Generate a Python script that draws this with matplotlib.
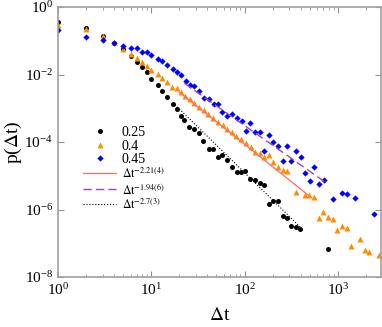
import matplotlib
matplotlib.use("Agg")
import matplotlib.pyplot as plt
import numpy as np
from matplotlib.ticker import FixedLocator, NullLocator, LogFormatterMathtext

plt.rcParams['font.family'] = ['Liberation Serif', 'DejaVu Serif']
plt.rcParams['mathtext.fontset'] = 'stix'

# p(dt) for s = 0.25 (black circles)
t_025 = [1, 2, 3, 4, 5, 6, 7, 8, 9, 10, 11.8, 12.9, 14.8, 16.9, 18.9, 20.7, 22.5,
         25.5, 28.7, 32.5, 35.8, 41.5, 45.8, 51.4, 57.7, 65.3, 73.9, 82.1, 92.2,
         102, 115, 128, 145, 161, 182, 203, 227, 255, 286, 316, 357, 397, 785]
p_025 = [0.366, 0.234, 0.138, 0.0858, 0.057, 0.0361, 0.0239, 0.017, 0.0121,
         0.00751, 0.00489, 0.00325, 0.00216, 0.00134, 9.5e-4, 6.02e-4, 4.64e-4,
         2.69e-4, 2.39e-4, 1.89e-4, 1.07e-4, 6.33e-5, 6.33e-5, 3.66e-5, 4.2e-5,
         2.99e-5, 1.78e-5, 1.25e-5, 1.29e-5, 1.38e-5, 8.18e-6, 7.48e-6, 6.22e-6,
         5.21e-6, 1.49e-6, 1.79e-6, 1.82e-6, 6.29e-7, 5.72e-7, 3.31e-7, 2.97e-7,
         2.7e-7, 6.76e-8]

# s = 0.4 (orange triangles)
t_04 = [1, 2, 3, 4, 5, 6, 7, 8, 9, 10, 11.8, 12.9, 14.8, 16.8, 18.7, 20.8, 23.0,
        25.8, 29.0, 32.5, 36.4, 40.9, 45.8, 51.4, 58.2, 65.3, 73.1, 81.5, 92.2,
        103, 116, 130, 145, 161, 181, 201, 227, 257, 286, 357, 446, 495, 561,
        627, 700, 782, 880, 988, 1109, 1239, 1384, 1740, 1935, 2173, 2730]
p_04 = [0.293, 0.223, 0.141, 0.0918, 0.0581, 0.0413, 0.0308, 0.023, 0.0179,
        0.0136, 0.01056, 0.00804, 0.00587, 0.00418, 0.00406, 0.00297, 0.00236,
        0.00188, 0.00148, 0.00111, 9.18e-4, 6.76e-4, 5.32e-4, 3.99e-4, 3.12e-4,
        2.38e-4, 1.94e-4, 1.54e-4, 1.2e-4, 9.15e-5, 7.26e-5, 5.06e-5, 4.82e-5,
        3.66e-5, 4.12e-5, 2.55e-5, 1.82e-5, 1.48e-5, 1.38e-5, 3.3e-6, 2.75e-6,
        2.69e-6, 2.35e-6, 5.72e-7, 8.61e-7, 6.12e-7, 5.41e-7, 2.44e-7, 3.24e-7,
        2.89e-7, 8.57e-8, 1.36e-7, 6.1e-8, 5.51e-8, 4.4e-8]

# s = 0.45 (blue diamonds)
t_045 = [1, 2, 3, 4, 5, 6, 7, 8, 9, 10, 11.9, 12.9, 14.8, 16.9, 18.9, 20.8, 23.4,
         25.9, 29.0, 32.7, 36.6, 41.7, 46.6, 51.8, 57.9, 65.2, 73.7, 82.7, 93.6,
         103, 115, 130, 145, 161, 181, 202, 227, 255, 285, 318, 356, 399, 447,
         499, 561, 623, 703, 880, 1109, 1242, 1538, 2415]
p_045 = [0.208, 0.132, 0.105, 0.0858, 0.0723, 0.0598, 0.0598, 0.0474, 0.0474,
         0.0378, 0.0294, 0.0251, 0.0191, 0.01455, 0.0116, 0.00966, 0.00655,
         0.00489, 0.00462, 0.00329, 0.00199, 0.00191, 0.00136, 0.00136, 7.64e-4,
         5.7e-4, 6.85e-4, 5.14e-4, 4.13e-4, 2.19e-4, 3.66e-4, 1.98e-4, 1.98e-4,
         5.41e-5, 1.59e-4, 1.0e-4, 7.61e-5, 2.74e-5, 7.61e-5, 2.74e-5, 5.41e-5,
         3.59e-5, 1.18e-5, 6.99e-6, 1.85e-5, 5.51e-6, 7.48e-6, 2.01e-6, 3.15e-6,
         2.82e-6, 2.24e-6, 7.21e-7]

# power-law fits: amplitude, exponent, fitted range
fit_04 = (2.25, -2.21, 20, 475)
fit_045 = (2.33, -1.94, 22.6, 718)
fit_025 = (3.1, -2.7, 18, 400)


def fit_line(fit):
    a, k, lo, hi = fit
    t = np.array([lo, hi])
    return t, a * t ** k


fig = plt.figure(figsize=(3.82, 3.27), dpi=100)
ax = fig.add_axes([58 / 382, 50 / 327, 323 / 382, 270 / 327])

ax.plot(t_025, p_025, 'o', color='black', ms=3.6, mec='none', label='0.25')
ax.plot(t_04, p_04, '^', color='#ff8c00', ms=3.8, mec='none', label='0.4')
ax.plot(t_045, p_045, 'D', color='#0000ff', ms=3.2, mec='none', label='0.45')

x, y = fit_line(fit_04)
ax.plot(x, y, '-', color='#ff6a6a', lw=0.9, label=r'$\Delta\mathrm{t}^{-2.21(4)}$')
x, y = fit_line(fit_045)
ax.plot(x, y, '--', color='#a040d0', lw=1.0, dashes=(6, 3),
        label=r'$\Delta\mathrm{t}^{-1.94(6)}$')
x, y = fit_line(fit_025)
ax.plot(x, y, ':', color='black', lw=0.8, label=r'$\Delta\mathrm{t}^{-2.7(3)}$')

ax.set_xscale('log')
ax.set_yscale('log')
ax.set_xlim(1, 2900)
ax.set_ylim(1e-8, 1)
ax.yaxis.set_major_locator(FixedLocator([1e-8, 1e-6, 1e-4, 1e-2, 1]))
ax.yaxis.set_minor_locator(NullLocator())
ax.yaxis.set_major_formatter(LogFormatterMathtext())

for sp in ax.spines.values():
    sp.set_color('#a0a0a0')
    sp.set_linewidth(1.2)
ax.tick_params(which='both', direction='in', top=True, right=True,
               color='#909090', labelsize=11)
ax.tick_params(which='major', length=4, width=0.8)
ax.tick_params(which='minor', length=2.5, width=0.6)

ax.set_xlabel(r'$\Delta$t', fontsize=14, labelpad=7)
ax.set_ylabel(r'p($\Delta$t)', fontsize=14, labelpad=0)

leg = ax.legend(loc='upper left', bbox_to_anchor=(0.06, 0.58), frameon=False,
                fontsize=10, numpoints=1, handlelength=2.4, handletextpad=0.4,
                labelspacing=0.05, borderaxespad=0)
for txt in leg.get_texts()[3:]:
    txt.set_fontsize(8.5)

fig.savefig('out.png', dpi=100)
